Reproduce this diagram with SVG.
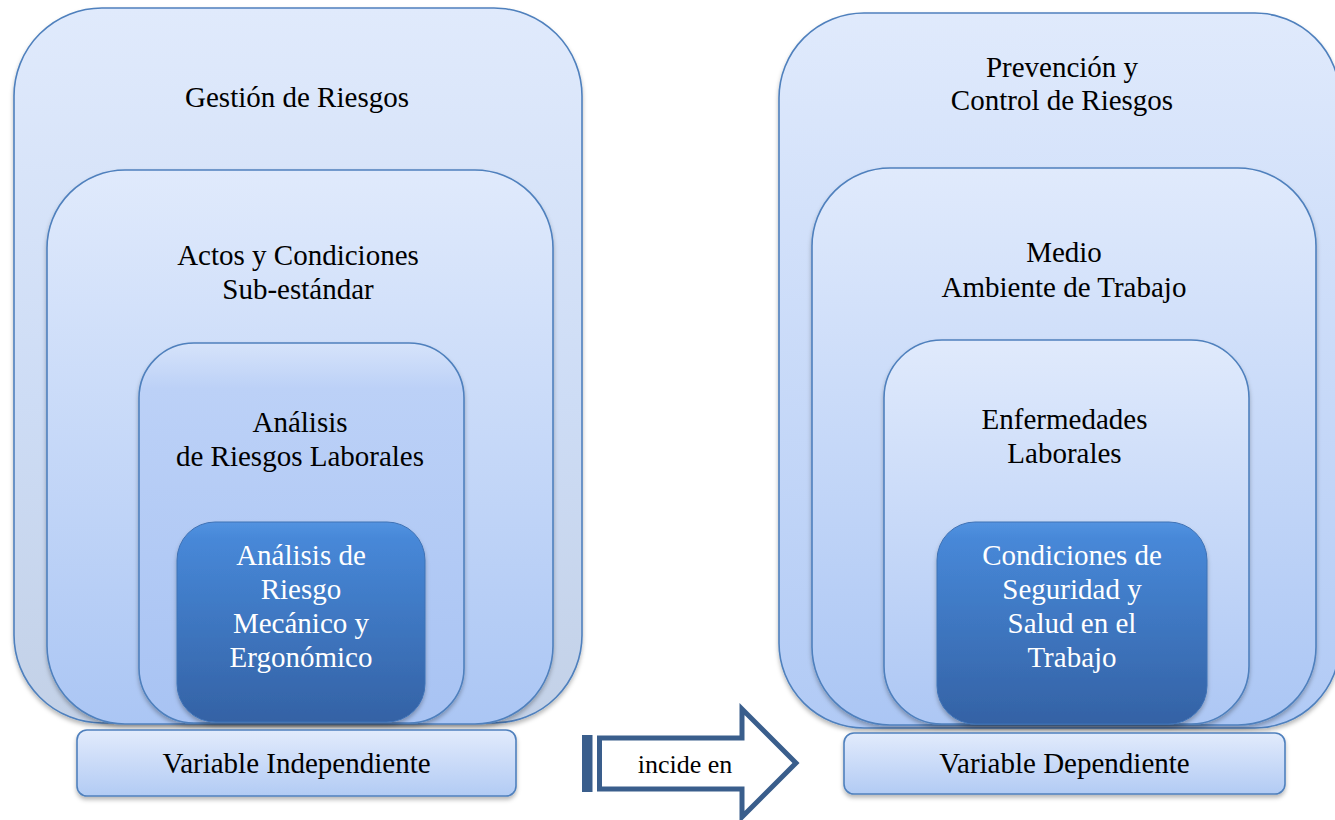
<svg xmlns="http://www.w3.org/2000/svg" width="1335" height="820" viewBox="0 0 1335 820">
<defs>
<linearGradient id="gOuterL" x1="0" y1="0" x2="0" y2="1">
<stop offset="0" stop-color="#e0eafc"/><stop offset="0.55" stop-color="#cddcf5"/><stop offset="1" stop-color="#c3d1e7"/>
</linearGradient>
<linearGradient id="gOuterR" x1="0" y1="0" x2="0" y2="1">
<stop offset="0" stop-color="#e0eafc"/><stop offset="1" stop-color="#b1caf5"/>
</linearGradient>
<linearGradient id="gMid" x1="0" y1="0" x2="0" y2="1">
<stop offset="0" stop-color="#e0eafc"/><stop offset="1" stop-color="#abc6f4"/>
</linearGradient>
<linearGradient id="gThirdL" x1="0" y1="0" x2="0" y2="1">
<stop offset="0" stop-color="#d6e3fa"/><stop offset="0.12" stop-color="#bcd1f7"/><stop offset="1" stop-color="#a8c3f3"/>
</linearGradient>
<linearGradient id="gThirdR" x1="0" y1="0" x2="0" y2="1">
<stop offset="0" stop-color="#e0eafc"/><stop offset="1" stop-color="#adc7f4"/>
</linearGradient>
<linearGradient id="gDark" x1="0" y1="0" x2="0" y2="1">
<stop offset="0" stop-color="#5393e0"/><stop offset="0.08" stop-color="#4788d8"/><stop offset="1" stop-color="#3462a5"/>
</linearGradient>
<linearGradient id="gLabel" x1="0" y1="0" x2="0" y2="1">
<stop offset="0" stop-color="#e2ebfc"/><stop offset="1" stop-color="#b2cbf4"/>
</linearGradient>
<filter id="sh" x="-10%" y="-10%" width="120%" height="125%">
<feDropShadow dx="0" dy="3" stdDeviation="2" flood-color="#000" flood-opacity="0.28"/>
</filter>
</defs>
<style>
.box{stroke:#4f80bd;stroke-width:1.6;filter:url(#sh)}
.dark{stroke:#3f72b5;stroke-width:1;filter:url(#sh)}
.w{fill:#fff}
</style>

<g font-family="Liberation Serif, Times New Roman, serif" font-size="29" text-anchor="middle" fill="#000">
<g id="left-outer">
<rect class="box" x="14" y="8" width="568" height="715" rx="88" ry="88" fill="url(#gOuterL)"/>
<text x="297" y="107">Gestión de Riesgos</text>
</g>
<g id="left-actos">
<rect class="box" x="47" y="170" width="506" height="554" rx="78" ry="78" fill="url(#gMid)"/>
<text x="298" y="265">Actos y Condiciones</text>
<text x="298" y="299">Sub-estándar</text>
</g>
<g id="left-analisis">
<rect class="box" x="139" y="343" width="325" height="380" rx="55" ry="55" fill="url(#gThirdL)"/>
<text x="300" y="432">Análisis</text>
<text x="300" y="466">de Riesgos Laborales</text>
</g>
<g id="left-inner">
<rect class="dark" x="177" y="522" width="248" height="200" rx="38" ry="38" fill="url(#gDark)"/>
<text class="w" x="301" y="565">Análisis de</text>
<text class="w" x="301" y="599">Riesgo</text>
<text class="w" x="301" y="633">Mecánico y</text>
<text class="w" x="301" y="667">Ergonómico</text>
</g>
<g id="left-label">
<rect class="box" x="77" y="730" width="439" height="66" rx="10" ry="10" fill="url(#gLabel)"/>
<text x="296.5" y="773">Variable Independiente</text>
</g>

<g id="right-outer">
<rect class="box" x="779" y="13" width="561" height="715" rx="85" ry="85" fill="url(#gOuterR)"/>
<text x="1062" y="77">Prevención y</text>
<text x="1062" y="110">Control de Riesgos</text>
</g>
<g id="right-medio">
<rect class="box" x="812" y="168" width="504" height="557" rx="78" ry="78" fill="url(#gMid)"/>
<text x="1064" y="262">Medio</text>
<text x="1064" y="297">Ambiente de Trabajo</text>
</g>
<g id="right-enfermedades">
<rect class="box" x="884" y="340" width="365" height="384" rx="58" ry="58" fill="url(#gThirdR)"/>
<text x="1064.5" y="429">Enfermedades</text>
<text x="1064.5" y="463">Laborales</text>
</g>
<g id="right-inner">
<rect class="dark" x="937" y="522" width="270" height="202" rx="38" ry="38" fill="url(#gDark)"/>
<text class="w" x="1072" y="565">Condiciones de</text>
<text class="w" x="1072" y="599">Seguridad y</text>
<text class="w" x="1072" y="633">Salud en el</text>
<text class="w" x="1072" y="667">Trabajo</text>
</g>
<g id="right-label">
<rect class="box" x="844" y="733" width="441" height="61" rx="10" ry="10" fill="url(#gLabel)"/>
<text x="1064.5" y="773">Variable Dependiente</text>
</g>

<g id="connectors">
<g id="arrow-incide">
<rect x="582" y="735" width="10.5" height="57" fill="#3a5e8c"/>
<path d="M599.5,738 L742,738 L742,709 L796,763 L742,817 L742,789 L599.5,789 Z" fill="#fff" stroke="#3a5e8c" stroke-width="5" stroke-linejoin="miter"/>
<text x="685" y="773" font-size="26">incide en</text>
</g>
</g>
</g>
</svg>
